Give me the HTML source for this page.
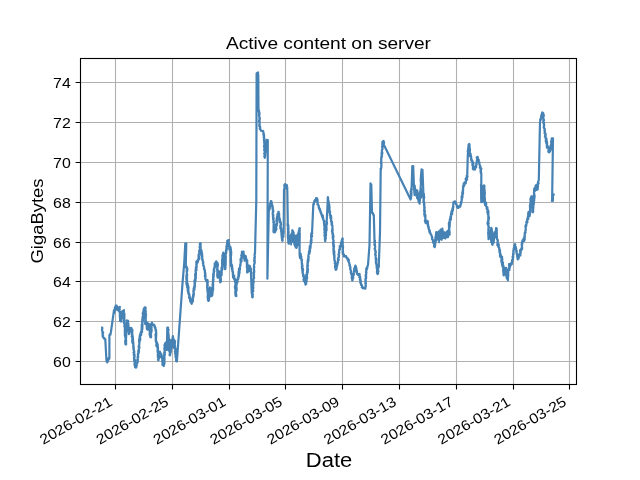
<!DOCTYPE html>
<html><head><meta charset="utf-8"><style>
html,body{margin:0;padding:0;background:#fff;width:640px;height:480px;overflow:hidden}
svg{display:block;will-change:transform}
text{font-family:"Liberation Sans",sans-serif;fill:#000}
.tl{font-size:14.3px}
.ti{font-size:16.7px}
.xl{font-size:19.4px}
.yl{font-size:17.2px}
</style></head><body>
<svg width="640" height="480" viewBox="0 0 640 480">
<rect x="0" y="0" width="640" height="480" fill="#fff"/>
<path d="M115.50 58.5V384.5M172.50 58.5V384.5M229.50 58.5V384.5M285.50 58.5V384.5M342.50 58.5V384.5M399.50 58.5V384.5M456.50 58.5V384.5M513.50 58.5V384.5M569.50 58.5V384.5M80.5 361.50H576.5M80.5 321.50H576.5M80.5 281.50H576.5M80.5 242.50H576.5M80.5 202.50H576.5M80.5 162.50H576.5M80.5 122.50H576.5M80.5 82.50H576.5" stroke="#b0b0b0" stroke-width="1.11" fill="none"/>
<path d="M102.1 327.7 102.0 328.0 102.3 328.2 102.3 329.0 101.9 329.7 101.9 330.1 102.0 329.8 102.4 331.9 102.2 331.1 102.7 333.2 102.7 332.5 103.1 332.2 103.1 333.2 102.5 333.4 102.7 335.4 102.6 335.4 103.1 335.5 103.0 335.7 102.7 336.5 103.1 337.2 103.6 337.4 103.7 338.1 104.2 337.9 104.8 339.1 104.7 339.2 105.3 339.4 106.5 361.2 107.0 361.8 107.3 362.4 107.7 359.7 108.2 358.3 108.0 361.3 108.0 359.4 108.2 359.9 109.1 358.9 109.5 357.8 109.4 357.6 109.4 335.0 109.9 334.8 110.0 334.0 110.5 334.7 110.5 333.6 110.8 332.8 114.0 310.2 113.9 310.9 114.6 312.9 115.0 307.3 114.9 309.6 114.8 307.7 115.5 307.5 115.7 305.6 116.1 309.4 116.7 305.6 117.5 310.1 117.7 307.0 118.6 309.2 119.1 307.3 119.5 309.0 119.0 307.8 119.2 311.6 119.8 306.9 119.2 308.0 119.3 310.4 119.7 309.3 119.2 310.9 119.6 312.5 120.2 313.2 119.9 313.1 120.0 313.9 120.2 311.9 120.4 316.6 120.4 317.3 120.1 314.9 119.8 317.1 119.9 313.5 120.0 314.7 120.2 314.4 120.0 315.7 120.1 317.7 120.1 321.1 120.7 318.8 120.6 320.2 120.5 319.4 120.7 317.7 121.2 321.5 121.0 318.0 120.8 314.8 121.1 315.4 121.6 314.2 121.0 319.4 121.6 313.1 121.7 311.7 121.8 318.0 122.2 315.5 121.8 312.6 121.8 313.6 122.2 313.0 122.1 311.7 122.7 311.8 122.5 311.0 123.3 311.7 123.8 311.6 124.0 311.1 123.8 311.7 123.9 310.1 123.6 311.3 123.8 314.7 124.4 313.2 124.4 318.6 124.4 313.5 123.7 312.8 123.7 313.1 124.1 319.8 124.3 316.6 124.1 320.0 123.6 319.2 124.4 320.8 124.2 318.6 123.7 321.9 123.8 322.3 124.4 319.7 123.9 322.8 124.2 320.7 124.0 321.9 123.8 319.9 124.7 325.6 124.2 326.3 125.1 325.2 124.7 324.7 125.0 324.8 124.7 324.7 125.5 326.1 125.1 327.8 125.0 328.5 125.4 325.7 124.9 326.4 124.9 329.0 124.9 328.1 124.8 333.0 125.0 329.4 125.3 333.9 125.1 334.6 125.2 331.6 125.3 327.5 125.2 329.4 124.8 335.5 125.0 333.1 125.5 334.3 125.2 334.5 125.4 337.4 125.0 335.8 125.2 333.8 125.7 336.4 125.5 339.1 125.8 336.8 125.6 337.8 125.5 340.0 125.5 339.1 125.5 343.3 125.7 343.2 126.0 338.2 125.6 344.2 125.9 338.9 125.3 341.5 125.2 341.1 125.3 343.4 125.9 344.2 125.4 344.1 125.7 344.3 125.9 343.4 126.1 344.5 125.5 344.5 125.7 342.2 126.2 343.8 125.5 340.8 125.9 339.5 125.6 338.7 126.1 335.5 125.9 338.8 125.5 337.3 126.0 338.4 125.6 342.2 126.2 341.5 125.6 334.7 125.6 338.8 125.8 332.5 126.0 339.0 126.4 332.6 125.8 338.1 126.2 335.6 125.8 329.3 126.3 332.1 125.8 336.2 126.3 334.5 125.8 334.5 125.8 334.1 126.2 328.9 126.3 333.3 126.1 326.6 126.3 327.2 126.0 326.6 125.9 326.7 126.2 326.8 126.6 326.5 126.4 326.3 126.6 323.8 126.7 321.0 126.8 320.4 127.5 324.8 127.2 323.6 128.1 320.8 127.9 322.8 128.3 323.2 128.1 325.4 128.0 324.4 128.4 329.1 128.2 328.4 128.6 327.1 128.4 325.0 128.1 323.6 128.2 329.6 128.5 324.9 128.4 331.5 129.2 330.5 128.7 327.2 128.8 329.7 128.8 330.1 129.0 334.2 129.7 331.8 129.1 333.2 129.4 332.6 129.4 331.2 129.4 330.6 130.0 331.2 129.9 330.7 130.0 328.0 130.2 329.1 130.8 329.2 131.5 329.2 131.2 327.8 131.5 328.2 131.8 331.0 132.0 332.7 132.0 335.2 131.8 330.8 132.4 329.7 132.2 334.7 131.7 336.6 132.5 335.0 132.2 335.0 132.5 336.0 132.0 336.1 132.4 338.2 132.7 339.2 132.5 340.7 132.7 339.8 132.3 334.3 132.3 337.8 132.3 342.6 132.8 341.2 132.9 342.2 132.8 336.6 133.2 343.8 133.0 342.4 133.2 341.6 133.3 342.5 132.7 343.0 133.4 343.4 133.4 345.6 133.3 344.8 133.3 345.9 133.6 346.3 133.6 346.1 133.2 346.9 133.8 347.5 133.6 348.1 133.7 348.5 133.3 349.0 133.9 349.8 133.9 349.9 133.8 350.6 133.8 350.5 134.2 351.0 134.3 353.0 133.5 352.5 134.3 354.1 134.0 353.1 133.8 355.1 133.9 354.8 133.8 355.2 134.6 354.8 134.5 356.1 134.6 357.0 134.1 358.0 134.3 356.6 133.9 358.1 134.4 358.2 134.1 358.8 134.3 360.3 134.1 360.7 134.9 359.8 135.0 361.6 135.0 361.1 134.6 361.9 135.2 362.8 134.7 362.9 134.6 362.7 134.5 364.7 134.7 365.2 134.7 364.8 135.0 365.3 134.9 366.4 135.4 366.7 135.1 367.1 135.8 367.6 136.1 367.6 136.5 366.7 136.4 365.1 136.6 365.5 136.8 365.5 136.5 363.7 137.2 363.4 137.0 363.4 137.0 363.5 137.3 362.7 137.8 362.1 137.5 361.5 137.5 361.1 137.2 360.1 137.3 361.0 137.6 359.1 138.0 360.3 137.7 357.9 137.5 357.3 137.7 356.8 137.7 356.6 138.0 357.5 138.2 356.0 138.0 355.7 138.0 354.8 137.8 354.1 138.6 353.3 138.3 353.9 138.6 352.5 138.2 352.1 138.3 352.0 138.9 352.2 138.9 350.5 138.2 350.8 139.0 350.1 138.7 349.6 138.8 348.9 138.7 348.9 139.1 348.5 139.3 347.2 138.6 346.5 139.0 347.7 139.5 347.5 139.2 347.3 139.1 345.4 138.8 346.4 139.0 346.8 139.5 342.3 139.0 341.4 139.5 343.8 139.1 339.3 139.5 342.1 139.5 339.3 139.7 337.4 139.5 339.8 140.1 340.5 140.1 338.9 139.6 336.9 140.3 339.3 139.8 335.0 140.0 337.8 140.0 335.7 140.2 337.0 139.9 335.0 140.2 335.0 140.3 334.1 140.9 332.1 141.2 335.1 141.2 331.2 141.9 331.6 141.7 332.1 142.0 331.2 141.5 331.9 141.6 332.7 141.8 328.2 141.6 329.0 142.1 331.9 141.6 327.8 141.7 331.1 141.7 324.6 141.7 326.3 142.4 329.0 142.3 329.2 142.5 324.4 141.9 327.8 142.4 321.4 142.4 323.2 142.2 322.6 142.0 321.3 142.2 322.2 142.4 321.9 142.9 320.9 142.9 320.2 142.4 321.6 142.9 319.5 142.3 319.2 142.6 321.6 142.5 317.5 143.2 314.8 142.8 319.4 143.2 313.8 142.6 313.5 143.5 314.2 143.4 317.9 143.1 313.3 143.7 315.0 143.1 315.2 143.2 311.8 143.0 314.4 143.9 313.1 144.0 308.7 143.4 311.1 144.1 312.9 143.6 309.3 143.7 309.7 144.2 308.8 143.9 308.7 144.6 307.5 145.0 309.0 145.2 310.3 145.1 308.0 145.0 308.7 145.6 307.4 145.2 312.3 145.4 309.4 145.8 311.7 145.4 312.3 145.6 314.0 146.1 315.2 145.5 311.6 145.3 314.2 145.9 314.4 145.4 314.7 145.7 316.9 145.8 318.5 145.7 314.3 145.9 316.0 145.6 317.0 145.7 316.4 145.3 317.2 145.2 321.8 145.5 318.7 145.4 323.5 145.4 319.1 145.7 322.3 145.8 319.8 145.3 323.6 145.6 324.0 144.9 323.1 145.3 323.9 145.5 322.0 146.7 324.8 146.8 324.2 147.3 324.2 147.3 324.8 146.8 328.2 147.5 322.7 147.2 327.8 146.9 326.0 146.9 325.0 147.1 329.1 147.5 326.4 147.0 328.5 147.5 329.7 148.0 327.3 148.0 326.1 148.7 328.7 148.4 324.2 149.0 327.8 149.5 324.3 149.7 326.4 149.4 327.4 149.7 326.4 149.6 331.2 149.7 329.0 149.8 328.2 150.3 333.9 149.8 327.3 150.2 327.8 149.6 334.6 150.0 334.4 150.0 335.5 150.1 329.5 149.8 333.5 150.4 337.2 149.9 334.9 150.2 334.6 150.0 334.5 150.4 335.6 150.5 336.0 150.2 334.5 150.9 336.8 150.4 330.6 151.1 337.3 150.8 328.5 151.3 331.0 151.3 332.5 151.3 327.9 151.3 327.9 151.1 333.0 151.5 326.5 151.0 328.0 151.4 327.3 151.1 325.6 151.7 330.9 151.1 327.4 151.9 322.7 152.0 323.5 151.9 325.4 151.9 324.3 151.9 324.2 152.4 324.5 152.9 324.8 153.5 324.5 154.1 324.8 153.8 325.4 154.4 325.2 154.8 326.9 154.7 326.1 154.9 326.4 154.7 327.4 154.8 327.9 155.4 327.4 155.5 329.2 155.7 329.3 155.8 330.8 155.6 329.3 155.6 330.7 156.1 329.9 156.0 334.9 155.9 334.4 155.5 335.8 155.8 336.2 156.2 332.4 156.1 337.1 155.5 334.4 156.1 333.9 156.3 335.0 156.2 334.8 156.0 339.5 155.8 336.5 156.1 337.3 155.7 337.1 155.8 341.6 156.3 341.7 155.9 341.4 155.9 340.9 156.4 341.0 156.6 341.9 156.3 342.3 156.5 343.9 156.3 345.9 156.9 343.2 157.2 343.0 157.5 345.2 157.1 346.7 157.3 344.0 157.8 344.9 157.7 346.7 158.0 347.0 157.9 348.7 157.9 348.7 157.6 346.8 157.4 347.6 158.0 349.4 157.9 352.4 157.6 349.3 158.1 348.7 157.5 351.0 157.6 351.5 157.8 352.9 158.1 352.6 158.2 353.7 157.8 355.2 157.9 354.0 157.8 355.6 158.5 356.4 158.1 355.8 157.8 357.1 158.3 356.9 158.4 357.7 158.7 358.7 158.1 359.3 157.9 359.3 158.3 359.7 158.4 360.3 158.1 360.0 158.2 359.4 159.1 358.0 158.6 358.6 158.9 358.1 159.3 355.2 159.0 355.6 158.9 358.9 159.6 357.3 159.0 357.6 159.8 354.7 159.9 354.2 159.5 353.0 159.9 353.4 159.9 351.7 160.3 355.8 160.9 356.9 161.2 353.5 161.4 355.1 161.9 356.0 161.9 356.3 161.7 357.1 162.4 357.0 162.4 356.9 161.9 357.8 162.4 359.8 162.4 359.0 162.6 359.5 162.1 361.3 162.5 361.3 162.6 362.5 162.5 362.7 162.7 363.2 162.5 363.4 162.7 363.1 162.4 364.1 162.4 364.8 162.8 365.0 163.8 366.0 163.5 365.2 163.5 365.5 163.8 363.8 163.5 363.0 164.1 363.8 164.2 364.4 163.7 363.0 164.0 363.8 164.4 363.8 163.8 363.1 164.6 363.1 163.9 358.3 163.9 356.8 164.6 360.5 164.5 359.6 164.5 357.6 164.4 357.5 164.1 356.6 164.7 355.9 164.3 355.7 164.1 354.5 164.3 356.1 164.4 353.4 165.0 354.0 164.9 354.1 164.2 352.4 164.6 354.0 164.5 353.1 164.7 349.8 165.0 348.5 165.0 348.5 164.3 348.2 165.0 352.1 164.3 348.8 164.8 350.1 164.5 347.8 164.7 349.3 164.7 349.4 164.7 344.9 165.1 345.8 164.6 345.8 164.6 345.4 165.2 344.6 165.0 343.8 165.6 343.4 165.8 343.5 165.7 343.9 166.3 342.6 166.4 342.7 165.9 344.6 166.7 346.5 166.3 349.2 166.3 347.3 166.7 349.3 167.0 349.0 166.9 349.1 167.3 327.5 168.1 327.5 168.0 327.8 167.8 329.3 168.3 329.9 167.9 329.3 168.4 330.5 167.9 330.4 168.6 329.6 168.0 330.5 168.4 334.1 167.9 330.7 168.0 332.2 168.3 331.7 168.2 332.4 168.8 336.0 168.0 337.9 168.0 335.1 168.8 338.0 168.6 336.4 168.1 338.1 168.1 336.2 168.3 336.3 168.4 339.8 168.6 339.4 168.6 339.8 168.5 340.4 169.8 339.7 169.5 340.3 169.7 341.2 170.2 341.0 169.9 342.6 169.8 341.0 170.0 344.7 170.1 344.4 170.2 344.8 170.0 344.0 169.7 345.5 169.5 344.8 170.1 347.0 170.0 344.8 169.8 346.5 170.0 346.8 170.1 350.3 169.6 349.2 170.2 348.2 169.9 352.1 169.5 350.1 169.6 352.0 170.3 351.0 169.6 351.8 170.0 353.1 170.0 353.1 170.3 353.0 169.9 355.0 169.7 354.4 169.9 354.9 169.7 355.3 170.0 355.4 169.9 354.0 169.9 354.0 169.8 353.4 170.2 354.4 170.2 351.4 170.2 353.6 170.9 351.9 170.3 352.9 170.5 349.0 170.3 351.7 171.0 350.4 170.8 349.4 170.6 350.3 170.8 348.3 171.0 347.5 171.3 347.6 171.1 345.7 171.2 344.0 171.5 344.7 171.6 343.7 171.2 343.1 171.4 342.2 171.0 344.8 171.3 341.5 171.4 342.4 171.6 342.8 171.9 340.8 172.2 342.3 171.4 341.1 171.9 340.0 172.6 341.2 172.2 341.1 172.9 336.0 173.1 338.4 172.7 339.8 173.4 338.4 172.9 337.8 173.1 342.0 173.3 338.9 173.8 343.1 173.3 344.2 173.7 344.0 173.8 345.2 174.0 345.4 173.5 345.0 173.9 345.4 173.9 345.7 174.0 345.4 175.0 345.9 175.1 346.2 174.8 346.2 175.1 346.2 175.1 346.6 175.2 348.5 175.3 350.9 174.9 351.5 175.3 350.4 175.5 352.5 175.3 350.6 175.9 349.1 175.6 352.8 175.1 353.2 175.8 355.6 175.5 356.4 175.7 354.0 176.1 351.9 176.0 355.9 175.7 357.7 175.7 356.0 175.9 358.2 175.7 356.8 175.9 358.0 176.3 357.8 176.4 358.6 176.1 358.9 176.2 360.3 176.4 360.5 176.1 360.7 176.3 361.3 176.9 361.3 182.5 283.3 184.2 263.3 185.3 243.3 186.3 243.4 185.8 265.0 185.8 265.8 186.3 267.5 185.9 267.6 186.8 267.1 186.3 266.3 186.4 266.7 187.0 268.3 187.4 268.9 187.1 269.9 187.3 270.2 187.1 270.9 187.1 271.3 187.1 269.8 187.1 271.7 187.1 270.3 186.6 270.4 187.1 275.7 187.0 273.3 187.2 276.0 186.9 273.7 186.7 275.1 186.7 275.7 186.9 278.9 186.4 277.4 186.4 275.5 187.1 278.5 187.1 278.3 186.3 278.6 186.8 281.4 187.2 280.1 186.6 279.8 186.8 280.9 186.7 281.7 186.5 281.7 186.4 283.1 186.6 284.6 186.7 285.1 186.8 281.9 187.5 283.3 187.6 283.5 187.0 287.1 187.7 288.1 187.8 284.4 187.8 288.2 187.8 289.9 187.7 290.6 188.2 286.0 187.7 289.9 188.5 287.3 188.1 291.3 188.1 292.5 188.4 288.7 188.4 292.0 188.6 293.0 188.4 293.9 188.7 293.6 189.0 293.3 188.9 294.6 189.5 294.8 189.2 295.0 189.4 295.1 189.1 297.9 189.8 298.3 189.5 297.6 190.2 299.4 190.0 297.1 190.0 300.7 190.1 300.1 190.4 301.8 190.7 299.0 190.1 299.7 190.6 301.4 190.8 301.7 191.7 303.8 191.5 303.4 192.5 301.6 192.8 301.5 192.7 300.1 193.0 301.0 192.9 301.2 192.7 297.0 192.9 300.1 192.7 299.4 193.4 296.1 193.2 298.0 193.1 294.9 193.0 297.3 193.5 295.2 193.0 296.6 193.7 293.0 193.6 296.1 193.9 293.5 193.6 293.4 193.4 290.7 193.5 293.0 193.7 291.7 193.8 290.9 193.6 288.5 194.5 289.4 193.7 289.6 194.4 288.5 194.2 288.3 194.3 287.7 194.3 286.4 193.9 288.1 194.7 286.3 194.5 284.8 194.8 284.9 195.0 286.2 194.9 286.8 194.5 281.3 194.5 281.6 194.4 280.4 194.9 284.3 194.9 284.2 195.3 278.9 195.1 280.2 194.7 282.8 194.9 280.1 195.3 281.8 195.4 278.2 195.2 276.5 195.7 280.5 195.1 274.8 195.2 276.0 195.8 278.4 195.8 273.8 195.8 276.0 195.8 276.1 195.3 273.7 196.0 274.2 195.8 273.3 196.0 272.6 196.0 272.9 195.6 271.2 195.7 269.6 196.0 269.0 195.8 268.3 196.2 267.1 196.3 267.6 195.7 271.1 195.9 270.6 196.6 269.9 195.9 267.0 195.9 269.1 196.7 266.9 196.3 264.9 196.7 265.1 196.6 262.8 196.3 261.8 196.7 264.0 196.3 264.5 196.4 262.5 196.4 261.9 196.7 261.7 197.4 260.4 197.2 260.8 197.7 262.6 198.3 260.0 198.0 260.3 198.1 260.3 198.7 257.1 198.6 256.8 198.5 255.8 198.7 259.5 199.4 258.7 198.6 254.7 199.4 252.9 199.4 253.7 199.7 251.7 199.6 252.9 199.1 250.9 199.8 252.8 199.3 252.1 199.7 251.7 200.1 250.7 199.8 249.5 199.5 251.4 200.0 248.0 199.5 246.9 200.0 248.6 199.8 246.5 200.1 248.7 200.3 247.5 199.8 244.2 200.3 245.5 200.3 243.1 200.5 244.2 200.5 245.6 200.3 243.1 200.3 243.4 200.7 243.9 200.8 243.7 200.2 246.5 200.4 243.7 200.5 246.5 200.2 246.6 200.7 247.1 200.5 248.7 201.1 250.0 200.8 249.7 200.9 250.5 200.7 251.6 201.5 250.1 201.2 250.8 201.3 250.4 201.3 251.7 201.8 251.8 201.2 251.4 201.3 254.8 201.2 251.6 201.9 252.6 201.3 255.3 201.9 255.5 202.1 253.7 202.3 257.5 201.6 256.1 202.1 257.4 202.0 257.1 202.2 257.7 202.4 259.4 202.1 259.5 202.5 260.0 202.8 260.3 203.0 261.6 202.7 261.4 203.2 262.1 202.9 263.6 203.4 262.8 203.0 263.3 203.3 265.2 203.7 265.6 203.8 266.0 203.3 265.7 204.2 267.2 203.7 266.6 204.1 267.1 204.1 267.5 204.2 268.3 204.2 268.8 203.9 269.0 204.8 270.2 204.9 270.6 204.8 271.7 205.0 270.3 204.8 271.3 204.9 271.9 204.9 273.8 205.0 272.8 205.0 273.7 205.4 272.9 204.9 276.0 204.8 276.1 205.7 276.0 205.1 276.2 205.4 274.4 205.1 274.8 205.3 277.4 205.4 277.3 205.3 279.1 206.0 279.7 205.8 280.0 206.4 281.1 206.7 281.5 207.5 280.0 207.5 280.6 207.6 280.9 207.3 280.3 207.2 282.1 207.4 283.2 207.1 282.0 207.8 281.7 207.6 284.0 207.3 288.1 207.3 287.0 207.2 282.5 207.8 285.7 207.1 285.8 207.4 288.8 207.1 285.7 207.9 289.9 207.2 287.5 207.4 290.4 207.6 291.8 207.8 290.3 207.7 291.4 207.7 291.2 207.5 291.7 207.8 292.6 208.0 291.2 208.0 290.4 207.9 294.3 207.7 297.6 207.8 294.1 208.1 297.9 208.0 294.9 207.9 295.9 208.1 295.3 207.9 297.7 207.9 296.5 208.3 300.8 208.1 298.4 207.9 298.2 207.9 300.1 208.3 299.5 208.3 300.8 208.7 300.0 208.7 300.7 208.9 298.1 208.5 301.0 208.2 295.3 208.8 297.7 209.1 299.2 208.9 300.3 208.9 296.4 209.1 294.9 208.9 295.9 209.0 297.9 209.3 294.4 208.9 292.8 209.2 293.6 209.4 295.4 209.8 292.1 209.4 292.6 210.0 290.0 209.6 292.9 209.4 288.9 210.2 291.4 209.8 287.5 210.2 289.1 210.2 288.8 210.0 287.6 210.4 287.9 209.8 287.7 210.2 289.2 209.9 287.4 210.4 290.9 210.2 294.2 210.5 287.9 210.3 293.8 210.3 293.6 210.1 291.3 210.9 293.9 210.8 291.6 210.6 294.6 210.5 295.4 210.8 296.4 210.8 295.8 211.2 294.9 211.0 292.5 211.9 291.7 211.6 291.8 212.2 295.6 212.5 293.3 212.6 293.2 212.2 291.1 212.8 291.2 212.8 290.6 212.3 289.5 212.3 293.0 212.8 288.7 212.7 288.5 212.3 291.6 212.8 291.6 212.7 288.7 212.6 284.0 213.2 289.4 212.7 289.2 213.2 284.4 213.0 288.6 212.9 288.0 212.7 283.5 213.2 281.8 212.9 286.0 213.0 284.9 212.9 279.9 213.0 279.5 213.6 279.9 213.2 278.6 213.2 279.8 213.1 278.3 212.9 280.1 213.1 278.5 213.3 278.3 213.1 277.4 213.2 275.6 213.6 276.0 213.2 277.7 213.2 274.1 213.9 272.6 213.6 277.2 213.9 271.8 213.6 275.4 213.6 276.6 213.5 276.0 213.8 270.3 213.8 269.1 214.1 269.6 214.3 271.4 213.9 268.8 214.2 268.4 214.4 268.1 214.2 268.9 214.2 268.3 214.2 268.7 214.4 268.3 214.7 265.6 214.7 263.6 214.7 268.1 215.0 266.4 215.0 265.2 215.4 264.3 215.5 262.4 215.8 263.3 216.2 261.3 216.6 264.2 217.5 262.6 217.3 263.0 217.9 264.3 217.8 265.5 217.2 263.6 217.1 266.2 217.6 264.7 217.4 267.2 217.7 265.0 217.8 266.2 217.6 265.6 217.2 270.9 217.7 270.1 217.1 266.2 217.2 267.8 217.3 269.4 217.1 269.5 217.6 269.2 217.8 272.2 217.7 270.7 217.4 273.9 217.4 270.3 217.8 275.1 217.3 272.6 217.8 275.1 217.1 275.0 217.5 275.8 217.4 276.7 217.7 277.6 218.5 271.7 218.6 273.3 218.9 275.6 218.8 271.2 219.2 272.6 219.7 273.0 219.7 274.3 219.6 275.8 219.5 274.4 219.1 276.5 219.5 275.8 220.0 273.8 219.9 273.8 219.9 279.2 219.6 278.1 220.3 279.2 219.9 277.2 219.6 278.4 219.9 277.9 219.9 278.0 220.3 281.7 219.9 280.5 220.3 281.8 220.3 282.4 220.8 281.7 220.2 282.4 220.2 281.1 220.4 282.0 220.6 281.5 220.4 280.4 220.8 278.5 221.0 280.4 220.5 276.4 220.8 275.3 220.5 275.3 220.7 277.5 221.0 273.2 221.0 275.0 221.1 272.5 220.8 271.0 221.7 275.2 221.0 274.5 221.8 273.0 221.1 272.0 221.5 270.3 221.6 269.7 222.0 270.7 221.7 270.0 221.9 269.9 221.9 268.5 221.6 267.4 221.5 269.0 222.2 266.5 221.7 267.7 222.3 269.1 221.8 267.8 222.4 267.0 222.0 262.8 222.5 263.2 222.1 264.2 222.2 265.5 222.1 259.9 222.5 263.2 222.7 263.1 222.9 264.2 222.5 260.8 222.3 259.0 222.7 257.0 222.9 257.1 222.7 261.8 222.4 255.2 222.8 255.7 223.1 254.0 223.2 259.0 223.2 255.7 222.8 256.6 223.1 254.8 223.0 254.4 223.3 255.1 223.6 253.0 223.1 253.1 223.3 252.6 223.4 253.0 223.1 252.8 223.3 254.0 223.9 256.2 223.9 257.4 224.0 256.3 223.9 253.3 223.9 257.3 223.6 257.6 224.2 257.5 224.0 256.8 223.8 261.1 223.5 257.1 224.2 259.3 223.7 261.1 224.0 261.1 224.1 261.3 224.3 260.9 223.9 260.0 224.7 262.9 224.0 265.4 224.2 261.0 224.5 262.5 224.5 265.0 224.3 265.6 224.3 265.7 224.8 263.7 224.7 264.6 224.7 268.5 224.9 268.2 225.1 267.3 225.4 268.8 225.0 269.1 224.7 268.9 225.0 267.4 225.5 267.8 225.4 265.6 225.4 264.3 224.9 265.3 224.7 266.1 224.9 263.7 225.4 264.0 225.6 264.8 225.6 263.9 225.7 265.4 225.0 264.1 225.2 263.7 225.5 263.6 225.1 260.1 225.7 263.3 225.7 257.0 225.6 256.8 225.6 260.9 225.2 261.2 225.7 256.3 225.3 257.0 225.9 257.4 225.3 253.5 225.3 257.4 225.4 255.6 225.5 255.4 225.6 253.6 226.1 253.8 225.8 253.3 226.1 253.3 226.4 250.7 225.9 250.2 226.1 253.6 226.5 247.8 226.0 252.4 226.6 249.1 226.5 247.1 226.9 248.1 227.0 249.0 226.4 246.7 226.6 249.9 227.0 243.8 226.7 245.4 227.0 246.3 227.1 244.4 226.8 245.2 227.2 242.8 227.4 244.6 227.5 243.3 227.2 240.9 227.9 240.8 227.7 241.7 227.8 241.3 228.2 241.4 228.3 240.1 228.8 240.2 228.5 241.6 228.8 242.2 228.7 242.4 228.5 242.2 229.0 244.0 229.2 244.1 228.7 244.7 229.1 244.7 229.1 244.8 229.1 245.3 228.7 245.9 229.2 246.7 229.4 249.7 230.0 246.8 230.2 246.5 230.8 248.3 230.7 248.5 230.4 250.0 230.8 249.7 230.9 249.6 230.5 248.9 230.6 250.3 231.0 252.1 231.2 251.4 231.2 253.3 230.4 251.6 230.9 256.4 230.7 255.8 230.7 256.8 230.4 255.2 231.2 254.6 230.6 253.7 230.5 255.5 231.0 255.8 230.7 256.2 230.9 260.3 230.9 257.2 231.0 261.8 230.9 257.5 231.1 262.2 230.7 259.2 230.5 261.4 231.1 262.2 231.2 261.8 230.6 263.0 230.8 263.3 231.0 263.6 231.2 263.8 230.7 264.4 230.8 266.0 231.2 265.7 231.5 265.0 231.5 264.1 232.0 267.6 232.1 265.3 231.9 269.5 231.7 266.5 231.7 267.3 232.3 267.5 232.5 269.9 232.3 271.0 232.4 271.5 232.5 271.7 232.7 271.7 232.9 271.5 232.9 274.6 233.1 272.7 233.1 276.8 232.9 273.5 233.1 277.6 232.8 273.2 233.2 276.6 233.3 276.7 233.8 276.7 234.2 276.2 234.3 275.9 233.8 276.6 234.1 279.1 234.8 278.3 235.0 280.0 235.4 280.4 234.7 280.5 235.3 282.6 234.8 280.4 235.4 281.5 235.6 283.1 235.3 282.7 235.5 283.9 235.1 286.8 234.9 286.4 234.9 286.4 235.2 288.1 234.9 287.0 235.3 289.4 235.8 288.3 235.2 286.8 235.2 288.3 235.2 287.6 235.7 290.5 235.3 292.9 235.3 291.1 235.3 293.2 235.9 290.5 235.8 294.0 235.4 291.9 235.7 294.9 235.4 294.4 235.8 294.1 235.8 295.4 235.5 295.6 235.8 295.8 235.7 295.6 236.2 294.0 236.3 296.1 235.8 291.4 235.7 294.3 235.6 293.6 235.8 292.7 235.8 291.0 236.4 290.3 236.1 291.6 236.5 291.0 236.7 288.6 236.1 289.8 236.6 287.6 236.4 287.5 236.4 286.7 236.1 288.0 236.4 287.1 236.3 286.0 236.3 285.5 236.7 285.0 236.5 284.6 236.6 284.3 237.0 282.7 237.0 282.9 237.6 282.1 237.0 282.9 237.7 281.9 237.3 280.1 237.4 279.4 237.3 279.8 237.7 279.4 237.8 277.7 238.2 279.2 238.1 278.0 238.4 278.3 238.3 276.7 238.7 276.6 238.4 275.1 238.5 277.7 238.5 273.9 238.6 271.6 239.3 270.1 239.0 276.3 238.8 273.5 239.0 270.3 238.9 268.9 239.5 273.2 239.7 267.5 239.6 268.9 239.6 270.1 239.4 272.6 239.2 270.4 240.1 268.3 239.9 269.5 239.7 267.4 240.0 266.7 240.3 266.0 240.3 265.4 240.2 265.7 240.5 263.6 240.5 264.5 240.2 264.5 240.3 266.1 240.6 264.2 240.7 262.0 240.5 259.0 241.2 261.3 240.9 260.8 241.2 258.2 240.7 261.9 241.1 260.1 241.5 261.4 241.6 254.8 241.2 259.9 241.7 254.8 241.2 255.4 241.2 255.6 241.9 255.5 241.7 255.0 242.0 251.7 242.2 257.6 242.8 253.2 243.0 255.1 243.3 252.6 243.6 252.0 243.6 252.8 243.6 252.3 243.5 253.5 243.6 251.7 243.5 256.2 243.5 253.9 244.2 255.1 243.9 255.7 244.4 256.5 244.2 258.3 244.7 260.7 244.8 258.3 245.7 260.0 245.8 256.1 246.2 259.0 246.7 260.0 246.9 260.2 246.7 261.5 247.1 260.9 246.7 262.5 247.2 260.4 247.3 264.6 246.8 264.8 246.8 261.0 247.2 263.8 247.1 265.1 247.4 267.5 246.7 266.9 247.1 266.4 247.5 266.6 247.2 270.6 247.2 268.2 247.3 271.1 247.5 271.0 247.2 266.6 247.5 270.6 247.6 272.0 247.1 270.5 247.1 272.4 247.5 272.4 247.3 270.8 248.0 271.7 247.5 272.2 248.2 270.3 247.8 271.3 248.2 270.0 248.9 271.2 248.9 265.8 248.5 268.0 248.4 270.9 248.7 265.6 248.9 265.7 249.2 265.9 249.8 266.8 249.8 266.3 249.8 265.9 250.8 269.9 250.8 268.3 251.7 293.3 252.1 292.7 251.6 291.1 252.0 293.9 252.1 295.3 252.3 295.6 252.6 295.7 252.8 297.0 252.5 297.4 252.1 296.8 252.6 296.3 252.6 295.7 252.4 295.8 252.5 295.3 252.9 294.6 252.7 294.8 252.7 294.2 252.4 292.7 252.9 291.4 253.1 290.9 252.9 290.7 253.3 291.0 253.2 290.3 253.1 290.2 252.8 288.7 253.3 288.1 253.4 287.7 252.7 286.9 253.3 288.3 253.0 287.2 252.9 287.2 253.3 285.2 252.8 285.6 252.8 285.2 253.1 284.1 253.3 283.7 253.3 283.3 253.4 282.7 253.7 282.2 253.7 281.4 253.7 281.9 253.3 280.0 253.4 280.5 253.2 279.9 253.2 279.2 253.8 278.6 253.7 277.4 253.9 276.9 254.0 278.4 254.1 276.8 253.5 275.9 253.9 275.7 254.1 274.4 253.7 275.5 253.9 274.3 253.4 272.9 253.6 274.1 254.2 272.1 254.3 271.2 254.0 272.8 253.8 272.2 254.1 269.7 253.9 270.1 253.8 270.2 253.8 269.7 253.9 268.1 254.2 267.8 254.2 267.9 254.3 267.2 254.2 266.7 253.8 266.2 253.9 265.8 254.0 265.3 254.2 264.4 254.5 263.5 254.1 264.6 254.3 263.8 254.8 262.5 254.2 261.2 254.8 260.7 254.5 261.1 254.2 260.4 254.3 260.1 254.6 259.2 254.4 258.8 254.4 257.6 254.5 258.8 254.8 258.3 254.3 257.9 254.8 257.0 254.9 256.3 254.6 255.8 254.6 254.6 254.5 254.2 255.0 253.7 255.0 253.3 256.3 200.0 256.6 73.3 257.5 72.7 258.1 72.4 258.0 73.3 258.2 75.0 258.3 75.0 258.5 110.0 258.8 110.2 258.4 111.2 259.1 110.5 258.9 112.4 259.1 112.2 259.2 112.9 259.4 112.4 259.5 113.8 259.1 113.6 259.0 115.5 259.4 114.7 259.2 115.5 259.2 116.3 259.5 117.0 259.3 117.8 259.9 118.4 259.4 118.5 259.7 119.9 259.6 119.8 259.1 120.3 259.7 121.1 259.0 121.5 259.2 120.8 259.8 122.4 259.5 121.7 259.6 124.0 259.6 124.0 259.6 124.7 259.3 124.4 259.5 125.3 259.6 125.4 259.2 126.0 259.8 126.6 260.0 126.2 260.2 128.2 259.7 128.8 259.9 127.9 260.3 128.7 260.5 129.6 261.0 130.7 261.7 130.6 261.9 131.1 262.8 131.1 263.0 131.0 263.5 132.2 263.2 131.1 263.6 133.2 263.6 133.0 263.5 133.6 264.0 134.4 263.3 134.5 263.4 134.1 264.1 135.3 264.0 135.9 263.8 135.9 263.9 137.8 264.2 137.0 263.7 137.5 264.3 138.4 264.3 139.5 263.9 139.6 264.3 140.0 263.9 140.6 264.0 140.9 264.7 141.4 264.1 142.5 264.5 143.1 264.3 143.1 264.8 143.6 264.8 143.4 264.7 143.8 264.4 144.0 264.1 146.6 264.4 146.8 264.2 146.3 264.1 147.2 264.8 147.7 264.4 149.1 264.8 149.0 264.1 149.4 264.5 150.7 264.4 150.5 264.7 150.4 264.6 151.6 264.9 151.7 264.5 153.3 264.2 153.5 264.8 153.3 264.6 154.3 265.0 154.7 264.9 153.9 264.5 154.7 265.1 156.2 264.3 156.4 264.7 156.5 264.6 157.4 264.7 157.8 264.9 157.2 265.0 156.5 264.9 156.1 265.3 156.1 265.2 155.6 264.9 155.7 265.3 154.6 264.9 152.9 265.2 153.9 265.5 152.3 265.0 152.2 265.7 150.9 265.6 150.4 265.3 149.6 265.3 149.8 266.0 150.3 265.3 148.8 266.0 148.3 265.7 148.0 265.6 147.5 265.5 146.7 265.8 146.3 266.4 145.5 265.7 146.4 266.0 145.7 266.3 145.1 266.0 143.2 266.5 143.4 266.4 143.3 266.6 141.9 266.3 142.8 266.5 141.0 266.7 140.6 266.9 140.1 266.7 139.9 267.8 140.0 267.4 278.7 268.8 210.8 269.2 210.3 268.9 210.9 268.9 208.3 268.8 208.9 269.6 209.0 269.4 209.0 269.2 206.3 269.8 208.7 269.9 207.0 270.1 205.2 270.4 206.1 269.9 204.1 270.5 203.5 270.0 204.5 270.4 203.0 270.5 202.5 271.0 203.8 270.8 201.0 271.5 201.3 271.2 201.7 271.7 203.4 271.9 203.1 271.8 203.6 271.8 205.3 272.3 205.8 271.8 205.5 272.5 205.3 272.7 207.5 272.6 207.7 272.7 208.4 272.3 207.9 272.9 208.0 272.8 208.3 272.6 208.5 273.0 209.8 272.7 209.2 272.7 209.2 273.1 212.4 273.3 210.7 273.2 210.0 273.3 211.5 272.6 213.4 272.8 212.3 272.7 213.6 273.2 215.6 272.8 216.2 272.9 214.1 273.4 215.1 273.1 216.6 273.1 218.1 273.1 218.8 273.6 218.0 273.0 219.5 273.0 218.8 273.4 217.4 273.6 220.8 273.6 219.9 273.6 221.1 273.3 222.3 274.1 222.4 274.1 222.1 274.1 222.5 273.7 223.3 273.7 223.4 273.7 224.7 273.9 224.7 273.6 224.0 273.7 224.9 273.5 227.4 273.8 226.6 273.6 228.2 273.6 226.8 273.9 229.2 274.3 229.9 274.3 231.2 274.1 230.8 273.5 229.1 273.5 232.1 274.2 231.7 273.8 231.7 274.0 232.4 274.0 232.5 275.1 230.6 274.6 229.6 275.2 232.1 275.7 230.0 276.1 229.4 275.5 227.7 275.6 229.7 276.0 230.1 276.5 228.7 276.1 228.3 275.9 224.7 276.4 225.9 276.1 224.3 276.0 226.6 276.7 225.8 277.1 223.7 276.7 223.3 277.0 222.6 277.1 223.4 276.5 219.7 276.6 221.6 276.8 218.6 277.3 221.5 277.0 217.8 277.4 219.4 276.7 218.0 277.3 219.9 277.2 218.2 277.0 216.8 277.3 216.7 277.8 215.9 277.3 216.1 277.5 213.9 278.0 215.0 278.3 215.0 278.3 211.8 278.7 211.9 278.7 212.6 278.7 212.9 279.0 214.4 278.7 214.8 279.2 214.6 278.7 217.0 279.2 213.8 279.0 218.3 279.0 216.3 279.6 218.5 279.5 218.3 279.5 218.3 279.2 217.5 280.2 220.7 279.5 218.1 279.8 222.4 279.9 221.7 280.3 221.7 280.7 222.3 280.8 222.2 280.1 221.7 280.7 222.1 281.0 225.1 280.3 226.0 280.3 225.3 280.3 226.9 281.1 228.0 280.3 228.2 280.8 228.6 280.8 228.2 281.0 229.5 280.5 226.8 281.0 228.3 280.9 227.7 281.3 228.7 281.4 231.4 281.1 230.8 281.2 231.7 281.4 231.9 281.3 231.8 281.8 233.4 281.3 232.0 281.7 235.7 281.9 233.0 281.5 234.4 281.9 234.2 281.8 238.3 282.1 234.6 281.5 235.6 282.1 238.2 282.0 238.1 282.0 239.3 282.3 240.7 282.4 240.5 282.6 240.7 282.3 240.8 282.6 239.8 282.6 240.5 282.4 240.4 282.3 240.5 282.6 239.1 282.5 236.9 282.6 236.4 282.5 236.4 283.3 236.8 283.4 236.8 283.3 236.2 283.3 234.1 282.9 233.9 282.8 233.0 283.6 234.0 283.2 233.2 283.7 232.8 283.8 231.6 283.2 231.4 283.5 230.6 283.7 230.0 284.0 190.0 284.0 189.5 284.6 188.3 284.3 188.7 284.4 188.9 284.4 188.3 284.7 187.9 284.3 185.7 284.5 186.7 284.4 184.8 285.1 185.2 285.0 184.2 285.3 184.3 286.3 185.2 286.7 185.0 287.0 185.8 286.6 185.5 286.5 186.9 286.7 186.5 287.4 187.8 287.1 188.3 287.2 188.9 287.0 188.1 286.9 189.0 287.3 190.0 287.8 223.3 287.7 223.7 287.5 224.3 288.3 225.0 287.7 225.6 287.6 225.2 287.8 226.2 288.1 226.7 288.2 226.4 288.4 226.8 288.3 225.3 288.4 227.1 288.4 231.3 288.3 228.4 287.7 228.3 288.5 228.6 288.3 231.9 288.3 229.8 287.9 229.7 288.7 232.1 288.4 233.8 288.0 231.0 287.9 236.6 288.0 237.9 288.2 236.8 288.1 237.7 288.2 235.5 288.5 234.4 288.2 239.3 288.3 237.1 288.7 236.6 288.3 237.3 288.5 238.7 288.7 239.8 288.9 238.9 288.8 241.7 288.4 240.6 288.6 241.6 288.7 242.4 289.2 243.5 289.3 239.6 290.2 239.9 290.5 241.5 291.2 241.7 290.9 240.5 291.2 240.6 291.8 240.4 291.1 238.0 291.8 239.5 292.0 241.6 292.1 235.6 292.2 237.7 291.7 234.9 292.3 234.7 291.7 234.5 292.5 235.3 292.4 232.3 292.2 233.3 292.1 235.0 292.3 231.0 292.9 232.8 292.3 230.2 292.8 232.0 292.3 231.4 292.8 230.9 293.1 231.5 292.7 232.0 293.1 233.5 292.7 235.0 293.5 235.1 293.5 233.2 293.6 232.5 293.1 235.8 293.7 232.9 293.2 233.2 293.5 234.4 293.3 238.4 293.7 238.8 293.7 238.3 293.8 239.4 293.6 242.0 293.9 239.7 294.4 243.2 294.5 244.0 294.8 239.5 295.1 239.9 295.4 242.0 294.9 244.3 295.3 243.3 295.3 243.4 295.5 245.4 295.4 244.0 295.7 247.5 295.7 246.6 296.1 246.1 296.6 247.7 296.7 247.4 296.4 246.5 296.5 247.9 296.6 244.1 297.0 245.9 297.4 242.0 296.9 242.2 297.3 243.6 297.2 245.9 297.5 245.2 297.8 240.9 297.9 241.3 297.2 244.1 297.3 237.8 297.5 239.0 298.2 242.3 297.8 239.5 298.3 239.9 298.2 238.4 298.1 237.9 297.8 237.0 298.4 237.2 298.6 238.4 298.8 233.9 298.1 238.0 298.6 232.8 298.8 232.8 298.5 233.0 298.8 234.5 298.5 234.5 299.1 232.2 299.2 233.8 298.7 231.2 299.4 232.3 299.4 228.4 299.8 231.3 299.2 229.2 299.9 228.4 299.6 228.4 299.6 254.6 299.9 257.8 300.6 253.7 300.8 255.0 301.1 257.9 301.3 256.7 301.0 257.1 301.1 257.6 301.0 257.8 301.4 258.6 301.2 259.3 302.0 259.9 301.5 260.7 301.6 260.0 301.7 260.2 301.9 261.0 301.7 263.3 302.1 263.5 302.1 263.5 302.2 264.8 301.8 264.8 301.9 264.2 302.4 265.5 302.5 266.6 302.3 265.6 301.8 266.8 302.5 266.8 302.0 266.7 302.1 268.7 302.0 268.2 302.3 269.7 303.0 268.7 302.3 271.1 303.1 270.2 302.6 271.3 302.6 271.7 302.8 272.1 302.5 272.7 302.9 273.3 302.7 273.5 303.2 274.9 303.0 276.1 303.5 274.4 303.3 274.1 303.8 276.6 303.1 274.9 303.8 276.6 303.9 276.3 304.0 279.9 303.5 279.2 303.7 280.4 304.3 281.3 303.9 278.4 304.4 280.9 304.0 280.7 304.4 281.7 304.8 280.1 305.1 281.2 305.0 282.6 305.5 284.6 305.8 283.9 305.4 283.7 305.7 282.4 306.1 283.1 306.2 283.8 305.8 280.4 306.3 279.6 305.9 278.9 306.5 281.6 306.6 281.8 306.7 277.8 306.3 279.5 306.1 278.4 306.2 274.9 306.7 275.0 307.1 278.4 306.8 274.2 306.5 275.4 306.9 274.3 307.2 274.4 307.3 273.3 307.1 273.3 306.8 272.7 307.2 271.9 307.4 271.1 307.1 271.2 307.5 271.9 307.2 270.0 307.8 272.1 307.5 267.1 307.4 269.5 307.3 265.8 308.0 270.0 307.3 267.1 307.8 265.7 307.3 267.6 308.0 265.4 307.4 264.7 307.5 267.3 307.5 263.1 308.1 261.8 307.6 260.9 307.7 262.9 308.3 260.4 307.8 263.2 308.1 260.4 307.8 259.3 308.6 258.2 308.0 260.8 308.6 260.8 308.3 260.2 308.5 257.7 308.4 258.1 308.7 256.9 308.5 256.7 308.3 256.7 308.3 256.4 308.6 254.4 308.6 254.6 309.4 252.4 309.3 252.7 308.8 254.5 309.0 251.0 309.2 253.9 309.7 252.1 309.0 252.6 309.6 252.9 310.0 249.3 310.0 251.4 309.5 248.5 309.7 247.9 309.8 246.1 309.8 249.9 310.0 247.9 310.5 248.0 310.0 247.9 310.6 247.3 310.6 245.7 310.8 244.4 310.6 244.2 310.8 243.6 311.0 242.4 310.8 242.2 311.1 241.6 311.2 243.5 311.3 239.3 311.4 242.0 311.2 241.0 310.7 241.7 311.2 239.0 311.1 240.2 311.6 240.2 311.1 236.8 311.2 235.0 311.3 234.1 311.8 234.7 311.2 233.4 311.9 233.6 311.7 234.2 312.1 236.5 311.7 234.3 312.3 233.1 312.3 233.2 311.9 232.6 312.1 231.7 313.3 204.6 313.6 203.5 313.8 204.3 313.9 203.0 314.0 203.3 314.4 201.3 314.3 201.1 315.0 201.2 314.8 200.4 314.8 200.8 315.1 199.9 315.8 199.8 316.1 198.0 316.6 199.1 316.9 198.2 317.2 198.6 316.8 199.7 317.4 199.2 317.6 201.4 317.3 200.6 317.6 202.3 317.2 201.5 317.4 203.0 317.4 203.1 317.7 203.8 317.5 204.5 317.9 204.6 318.5 205.1 318.5 205.4 318.8 206.1 318.9 207.0 318.7 207.6 318.7 206.6 319.2 208.8 319.7 209.4 319.5 209.8 319.8 208.6 320.0 210.5 320.0 210.6 320.0 210.3 320.3 211.3 320.6 210.9 320.3 211.9 321.2 213.3 320.9 212.7 321.3 213.0 321.6 215.0 321.4 214.8 322.1 215.6 322.2 216.0 322.0 216.8 322.8 215.5 323.0 216.9 322.4 216.5 323.2 218.3 322.8 218.4 323.4 219.7 323.3 219.7 323.4 219.6 323.5 220.3 324.1 220.8 324.2 221.3 323.9 221.7 323.9 222.1 324.1 222.8 324.0 223.3 324.3 224.5 324.3 225.1 324.4 224.3 324.5 224.6 324.1 225.0 324.6 227.4 324.4 226.6 324.4 227.1 324.7 227.7 324.2 229.2 324.6 227.9 324.9 230.0 324.5 230.3 325.0 230.3 324.6 230.6 324.8 231.9 325.0 233.0 324.4 232.2 325.1 233.7 324.9 233.9 324.7 235.0 324.9 234.4 324.6 234.2 325.3 236.2 324.5 235.7 325.0 236.6 324.9 238.0 324.9 237.7 325.4 238.6 325.1 238.2 325.0 239.4 325.4 239.3 325.0 240.1 325.1 240.9 325.2 241.2 325.3 240.6 325.1 240.5 325.0 240.0 324.9 238.5 325.0 239.5 325.1 237.3 325.1 236.8 325.7 238.0 325.9 238.5 325.6 237.9 325.3 237.4 325.6 233.8 325.9 236.1 325.6 232.3 326.1 234.6 325.9 235.1 325.4 230.6 325.6 229.9 326.1 232.1 325.6 229.5 325.7 231.0 326.2 232.0 326.0 231.5 326.1 228.5 325.9 227.3 326.6 230.1 326.4 226.0 326.0 225.4 326.2 227.4 326.0 226.0 326.6 223.4 326.4 225.9 326.5 224.2 326.9 224.1 326.4 223.1 327.0 223.4 327.0 222.4 326.3 221.6 326.7 221.3 327.9 197.2 327.9 197.9 327.6 198.7 328.3 198.7 327.7 200.1 328.1 200.4 328.3 201.2 328.2 202.7 328.8 203.1 328.5 200.9 328.3 201.2 328.9 204.0 328.8 204.6 329.1 204.6 328.5 205.4 328.5 205.2 328.5 206.8 328.8 204.8 329.3 204.5 329.3 207.9 328.7 208.4 329.1 209.5 329.2 208.0 329.6 207.5 329.5 208.4 329.1 209.2 329.7 210.2 329.4 210.8 329.7 211.0 329.8 212.1 329.3 212.3 330.0 211.7 330.0 212.3 329.9 215.6 330.5 216.5 330.1 215.1 330.6 216.4 330.4 217.4 330.4 218.2 330.6 215.2 330.9 215.8 331.0 215.9 331.3 218.5 331.2 217.2 331.2 218.8 331.0 220.7 330.9 220.3 331.0 221.2 331.5 221.3 331.9 221.5 331.6 222.3 331.8 223.3 331.6 224.5 331.5 222.6 332.1 222.9 331.6 224.8 331.8 223.9 332.3 225.7 332.3 225.3 332.4 225.7 332.5 227.9 332.6 229.1 332.3 228.5 332.6 228.6 331.9 231.2 332.6 230.7 332.6 229.3 332.4 232.3 332.9 233.3 332.2 232.7 332.6 232.0 332.4 231.4 332.7 233.4 332.5 233.4 332.8 235.5 332.9 233.9 333.2 235.1 333.4 236.9 332.7 236.6 333.5 236.9 333.1 237.5 333.2 237.9 332.7 238.2 332.9 238.6 333.3 239.7 333.7 240.6 333.2 242.1 333.4 241.2 333.7 242.3 333.2 242.5 333.2 244.6 333.2 245.1 333.1 241.5 333.5 242.8 333.5 243.0 333.8 245.9 333.7 247.5 334.0 246.9 333.8 244.5 333.3 246.8 334.1 246.9 333.8 246.0 333.7 250.4 333.9 250.6 333.4 248.4 333.6 251.6 333.5 252.6 333.7 252.9 333.9 251.0 334.4 251.8 334.2 251.1 334.3 254.9 333.7 254.5 333.9 253.5 334.0 255.1 334.5 255.9 334.6 255.9 334.2 256.3 334.4 256.5 334.5 257.4 334.3 258.8 334.2 257.2 334.2 257.5 334.6 260.6 334.3 259.8 334.7 260.6 334.7 261.0 334.4 259.4 334.8 260.7 335.1 261.2 335.3 261.7 334.7 263.3 335.0 263.5 335.4 263.7 335.4 265.6 335.2 265.4 335.7 266.1 335.1 265.4 335.1 266.5 335.1 267.7 335.5 267.6 335.6 268.9 335.5 268.6 335.6 269.3 335.8 269.9 336.3 269.6 336.0 268.4 335.8 267.6 336.7 268.3 336.2 267.7 336.2 267.0 336.6 265.6 337.1 266.4 337.1 264.7 337.4 264.8 337.5 263.6 337.8 263.0 337.4 263.3 337.5 262.7 337.9 262.5 338.1 262.2 337.9 261.3 338.2 260.6 338.1 260.8 338.1 259.3 337.9 259.6 338.8 259.9 338.0 258.5 338.4 257.3 338.7 257.5 338.8 256.5 339.0 257.2 338.7 255.2 338.7 254.7 339.0 255.4 338.9 255.5 338.5 254.5 339.3 252.6 338.9 252.0 339.2 253.0 339.0 252.3 339.1 251.8 339.1 251.4 339.3 250.3 339.4 250.0 339.2 249.7 340.0 249.2 339.5 249.2 340.1 247.2 339.9 247.9 339.7 246.1 340.1 247.4 340.8 245.7 340.9 246.2 341.0 245.3 341.2 244.9 341.3 244.3 340.7 243.7 341.1 242.9 341.1 242.7 341.5 242.0 341.5 241.7 341.5 241.2 341.8 240.4 342.1 239.4 342.2 239.0 342.6 239.3 342.5 238.4 342.8 238.9 342.3 239.7 342.5 239.8 342.4 240.3 342.8 241.5 342.6 241.9 342.3 241.9 342.5 242.1 342.5 243.5 342.8 242.9 342.4 244.6 342.8 244.9 342.8 245.5 342.5 244.6 342.6 245.0 343.1 246.6 342.9 248.1 343.0 247.0 342.6 247.2 343.0 249.1 342.8 248.8 342.6 249.6 343.0 251.0 343.1 251.4 342.8 251.0 342.7 252.5 342.6 251.7 342.7 253.1 343.2 253.1 343.2 253.8 342.9 254.2 343.3 254.0 344.0 254.8 343.8 256.3 344.5 255.7 345.0 256.3 345.5 256.2 345.5 256.7 346.2 256.2 346.7 258.2 347.1 258.3 347.7 258.3 348.0 258.5 347.6 259.6 348.3 259.3 348.1 261.0 348.9 260.1 348.7 261.4 348.7 260.7 348.8 262.5 349.2 262.7 349.0 262.5 349.3 263.5 349.5 264.5 349.8 264.6 349.5 265.6 349.7 266.3 349.8 266.3 350.0 265.7 350.5 267.9 350.1 268.3 350.4 269.3 350.1 268.5 350.3 269.5 350.9 270.4 350.8 270.2 350.8 270.8 351.2 271.1 350.8 272.1 351.0 273.1 350.8 272.7 351.0 272.2 351.0 272.9 351.3 274.2 351.5 274.4 351.8 275.4 352.1 275.1 351.8 276.3 351.8 277.7 351.7 278.2 351.9 277.5 352.2 278.5 352.0 278.2 352.7 279.2 352.1 280.0 352.5 280.4 352.6 279.8 352.5 279.8 352.6 278.7 353.2 278.1 352.8 277.1 353.1 277.7 353.0 276.7 352.9 277.0 353.2 276.6 353.2 275.9 352.9 274.2 353.9 274.7 353.7 273.8 353.6 272.7 353.4 273.1 353.9 271.9 354.0 271.4 354.0 271.1 354.0 270.8 354.1 270.1 354.3 269.0 354.4 269.5 354.2 268.3 354.9 268.3 354.9 268.2 355.0 266.5 355.1 267.2 355.3 266.3 355.4 265.5 355.4 266.0 356.0 266.9 355.8 266.3 355.9 266.5 356.3 269.1 356.2 268.0 356.4 268.3 356.5 269.6 355.9 270.9 356.3 271.3 356.7 271.1 356.9 270.9 357.1 271.7 356.4 272.3 356.5 272.5 357.1 273.3 357.1 274.1 357.3 273.6 358.0 274.9 359.0 274.7 359.2 273.8 359.7 274.3 359.6 274.5 359.8 275.8 359.7 275.2 359.3 277.2 359.8 277.0 360.1 276.5 360.1 277.7 360.2 278.2 359.8 279.8 359.9 279.8 360.5 279.2 360.5 280.1 360.1 280.2 360.9 281.0 360.6 281.8 360.2 282.6 360.9 283.0 360.8 283.3 360.9 283.4 361.0 284.9 361.5 284.7 361.6 284.6 362.1 285.9 361.9 287.1 361.8 287.3 362.3 287.5 362.7 288.2 363.0 287.4 364.0 288.1 364.3 288.5 364.6 288.4 365.4 288.7 365.0 288.3 365.2 287.9 365.5 287.3 365.6 286.2 365.8 285.9 365.9 286.2 365.7 285.8 365.5 285.0 366.0 283.5 365.3 283.5 365.7 282.4 365.4 283.4 365.6 281.4 365.5 281.8 365.5 281.1 365.8 280.5 365.8 280.8 365.4 280.5 365.6 278.1 366.1 278.7 365.9 277.5 366.2 277.2 366.2 276.5 366.0 276.9 365.9 276.0 365.6 275.9 366.2 274.3 366.1 275.1 365.7 274.8 366.5 272.7 365.9 272.3 366.0 271.9 366.2 271.7 366.0 271.5 366.1 271.2 366.5 270.4 366.3 270.0 366.2 269.0 366.5 268.2 367.0 269.1 367.4 267.4 366.7 268.1 367.2 267.9 367.4 266.1 367.3 266.9 367.8 265.4 368.0 265.0 369.5 245.0 370.5 183.4 370.7 184.5 371.3 184.4 371.3 185.0 372.0 212.5 372.0 212.8 373.0 213.1 373.0 213.9 373.2 214.3 373.3 214.7 373.8 215.0 374.5 240.0 374.9 240.3 374.4 241.3 375.0 241.0 374.7 242.2 375.0 242.4 374.4 242.6 374.9 244.0 374.5 244.3 374.9 244.8 374.4 244.9 374.7 245.7 374.8 245.2 375.1 246.0 375.2 246.6 375.0 248.2 374.7 248.5 374.7 249.5 374.7 249.5 375.0 248.8 375.1 250.0 375.1 249.7 375.3 250.6 375.7 251.2 375.2 251.4 375.8 252.2 375.5 253.5 375.3 253.8 375.2 253.7 375.1 254.5 375.5 255.0 375.9 255.3 375.6 256.4 375.5 255.8 375.7 256.8 376.2 258.4 375.6 258.1 375.8 257.5 375.9 259.9 375.8 259.7 376.2 259.0 376.5 259.6 376.0 261.4 375.8 261.3 375.9 262.0 376.3 262.5 375.9 262.8 376.2 263.1 376.1 263.6 376.5 263.9 376.8 264.8 376.4 265.0 377.0 265.0 376.9 265.6 377.2 266.8 376.9 268.3 376.5 267.1 377.1 268.7 377.2 268.6 377.0 268.9 377.0 269.6 377.2 270.1 377.0 271.4 376.9 272.2 377.3 271.6 377.0 272.6 377.4 273.3 377.3 273.6 377.5 274.1 377.9 273.5 378.1 273.6 378.2 273.4 377.6 272.8 378.0 270.9 378.4 271.4 378.3 270.7 377.7 270.9 377.9 269.0 378.3 268.4 378.3 269.0 378.0 268.4 378.1 267.5 378.6 267.4 378.2 266.0 379.1 265.9 378.7 265.4 378.8 265.0 380.0 232.5 380.7 170.0 380.9 169.6 380.9 168.9 380.9 168.5 380.6 168.6 381.3 168.0 381.4 166.9 381.3 165.9 381.2 166.5 381.4 166.2 381.4 164.5 381.4 164.4 381.0 163.7 381.4 164.3 381.5 163.4 381.0 161.7 381.3 161.4 381.2 160.6 381.0 161.5 381.1 161.3 381.3 160.8 381.3 159.0 381.4 157.9 381.5 158.2 381.1 158.7 381.5 156.6 382.1 156.6 381.5 156.0 381.4 156.2 381.8 155.5 381.8 155.0 381.6 154.4 382.3 153.9 382.3 153.9 381.6 153.5 381.5 152.9 382.3 152.4 382.1 152.1 381.8 151.0 381.9 150.2 381.9 150.3 382.2 150.0 382.3 149.1 382.6 149.0 382.3 147.5 382.7 147.0 382.0 146.4 382.6 147.3 382.6 146.1 382.9 145.9 382.4 144.7 382.8 143.9 382.2 143.9 382.9 142.9 382.8 143.1 382.3 142.1 382.7 141.7 383.5 140.9 383.6 141.2 384.0 143.0 383.6 143.1 383.9 142.2 384.2 142.7 383.5 143.9 383.5 144.5 384.0 145.0 410.6 199.4 410.6 199.6 410.6 199.5 411.0 198.3 410.5 196.1 410.8 196.1 411.0 196.3 410.8 196.5 411.4 193.1 410.9 191.2 410.7 191.0 411.0 196.1 411.3 196.5 411.5 193.3 411.3 188.6 411.2 189.9 411.4 188.0 411.4 189.7 411.4 189.5 411.1 190.7 411.8 189.4 411.2 188.7 411.6 188.0 412.3 166.0 413.2 166.0 414.0 188.0 414.6 190.4 414.7 185.6 415.1 190.5 414.8 192.8 415.6 193.1 415.3 191.2 415.7 189.6 416.3 192.0 416.3 192.0 416.3 192.6 417.0 193.4 417.2 194.0 417.4 190.6 417.1 194.9 417.5 198.4 417.6 195.3 417.7 196.2 418.0 199.3 417.5 196.4 418.1 197.5 418.6 196.6 418.6 195.6 418.6 201.2 418.4 198.7 418.5 201.5 418.9 201.3 418.9 201.7 419.6 203.6 419.7 200.5 419.5 202.2 419.6 203.1 421.0 182.5 420.9 182.4 420.7 181.6 421.3 182.8 420.6 179.2 421.1 182.8 420.8 181.9 421.0 179.3 421.5 175.3 421.0 175.5 420.9 176.0 421.4 177.5 420.9 178.6 421.3 173.3 421.6 177.7 421.0 178.0 421.6 172.4 420.9 176.5 421.6 170.5 421.6 174.8 421.5 174.7 421.8 170.7 421.7 173.6 421.3 171.6 421.6 171.3 421.5 169.5 421.5 169.3 422.5 170.0 423.4 193.8 423.2 194.4 423.1 196.2 423.9 193.8 423.7 197.1 423.3 198.4 423.9 195.5 423.3 195.8 424.0 197.6 424.0 195.9 423.4 197.8 424.2 197.0 423.5 201.8 423.5 201.7 423.6 199.1 424.1 203.6 423.9 201.8 423.6 202.2 424.1 203.0 423.9 203.9 424.3 204.8 424.2 205.3 423.9 204.4 424.0 204.1 424.5 204.0 424.1 205.0 424.6 208.1 424.3 206.7 424.7 211.3 424.3 209.1 424.7 207.4 424.2 206.8 424.4 212.1 424.1 210.2 424.9 211.0 424.4 214.1 424.9 211.3 424.2 213.7 424.8 216.3 424.7 212.5 424.6 213.1 424.6 214.6 425.0 216.4 425.1 215.8 424.7 216.3 425.2 215.8 425.2 218.1 425.2 217.2 425.4 214.9 425.4 219.5 425.0 220.1 424.9 220.4 425.2 220.2 425.0 221.5 425.6 220.5 425.9 221.4 425.4 222.3 425.6 222.9 426.0 223.3 426.8 222.4 426.6 220.8 426.7 221.3 427.5 220.9 427.6 221.4 428.1 221.8 427.6 222.2 427.5 223.9 427.9 223.5 427.8 223.4 427.8 224.4 428.0 226.0 428.2 224.8 427.8 225.2 428.1 226.9 428.7 226.8 428.4 227.5 428.8 228.0 428.8 228.6 428.5 228.1 429.2 230.0 429.2 231.0 429.7 230.1 429.2 231.2 429.9 231.0 429.5 232.1 429.7 232.8 430.3 233.1 430.6 233.4 430.6 233.7 430.5 233.9 431.3 234.9 431.4 235.1 431.6 236.1 431.7 236.1 431.8 236.2 432.3 237.7 432.1 238.1 431.9 237.9 432.2 239.5 432.1 239.1 433.1 240.0 433.1 240.0 433.1 240.6 433.0 241.3 433.1 242.0 433.3 242.7 433.6 243.3 434.1 242.9 434.2 242.6 434.2 243.1 434.1 244.4 434.4 244.8 434.0 246.3 434.4 246.6 434.5 246.3 434.6 247.2 434.9 246.6 434.7 245.8 434.6 245.9 435.1 245.4 434.9 245.1 435.2 242.3 435.2 244.4 435.4 241.1 435.1 241.6 435.0 241.2 435.6 242.2 435.2 242.8 435.3 242.4 435.4 237.4 435.5 239.8 435.6 241.8 436.3 237.2 436.2 239.5 436.1 236.0 436.5 240.3 435.8 235.5 436.1 234.1 436.3 238.4 436.0 237.4 436.3 232.0 437.0 233.2 436.4 232.4 436.6 232.3 436.5 232.4 436.9 232.2 437.2 232.5 437.2 233.4 437.8 235.2 437.7 237.0 438.3 235.1 438.2 234.0 438.1 237.2 438.7 236.1 439.0 234.5 439.6 237.3 439.0 236.0 439.4 234.4 440.2 232.7 440.1 234.3 440.1 233.6 440.6 235.5 440.6 233.2 440.7 230.0 441.0 229.8 441.6 230.3 441.9 229.7 442.4 228.6 442.6 234.2 442.4 230.2 443.2 232.4 443.7 232.0 443.5 236.7 443.7 237.1 444.5 233.5 444.4 235.0 445.0 237.1 445.1 237.4 446.2 236.7 446.6 232.3 447.5 232.3 447.8 236.1 448.1 235.0 448.0 234.7 448.1 234.6 447.9 235.0 448.2 234.3 448.4 234.2 448.3 232.3 448.1 231.4 448.2 233.5 448.8 230.0 449.2 233.1 449.2 226.6 449.0 230.6 449.0 225.2 449.4 227.6 449.1 229.7 448.9 223.8 449.6 224.9 448.8 223.5 449.7 227.1 449.1 222.6 449.8 225.6 449.6 221.5 449.5 226.6 449.2 222.5 449.3 225.2 449.4 224.0 450.1 222.3 449.5 221.4 449.9 220.5 450.0 220.0 449.8 219.5 450.6 217.3 450.8 218.0 450.4 216.2 450.7 218.5 450.9 219.7 451.0 216.6 451.6 214.1 450.9 214.3 451.3 212.4 451.5 211.3 452.1 213.9 452.2 214.0 452.0 213.0 452.3 212.6 452.0 212.2 452.0 211.6 452.4 211.5 452.1 210.1 452.8 210.6 453.0 208.6 452.4 208.1 452.9 209.0 453.0 208.6 452.9 207.6 453.4 207.3 453.2 206.6 453.1 206.5 453.3 204.6 453.2 204.8 453.3 204.6 453.3 203.7 453.5 203.2 454.1 202.5 453.3 202.5 453.8 201.9 455.0 201.3 455.1 201.7 455.5 202.0 455.4 201.7 456.1 204.2 455.8 203.6 456.0 203.2 456.8 205.3 456.4 204.5 457.0 206.2 457.0 205.8 457.0 207.1 457.7 207.5 457.3 207.5 457.8 207.9 458.6 207.8 458.5 206.4 458.5 207.3 458.8 207.1 459.7 206.0 460.3 206.7 460.4 204.8 460.6 205.0 460.8 204.5 460.6 204.5 461.1 202.9 460.8 202.2 461.2 201.6 461.1 203.7 461.0 202.7 461.2 203.4 461.9 199.6 461.7 198.0 461.6 200.2 461.9 198.2 461.5 196.5 462.1 196.3 461.9 198.2 462.6 197.1 462.1 196.8 462.2 196.5 462.5 195.6 462.2 194.7 462.5 195.8 462.3 192.7 462.4 192.0 462.6 192.5 463.0 192.0 462.8 191.4 463.1 193.6 462.9 193.2 462.8 193.0 463.1 190.9 463.0 188.2 462.8 191.0 463.1 189.4 463.2 188.0 463.0 186.4 463.2 187.1 463.4 186.3 463.7 184.2 464.1 185.0 463.7 183.6 464.1 186.1 464.6 183.0 464.6 182.3 464.9 182.5 465.3 182.5 465.7 182.7 465.8 183.3 466.0 178.9 465.6 178.7 465.9 180.1 466.6 179.9 466.4 177.5 467.1 179.8 466.7 175.8 467.5 176.8 467.2 176.9 467.8 154.4 468.2 153.4 468.1 153.0 468.3 152.0 467.7 150.8 468.4 154.4 468.3 152.3 468.1 149.5 467.9 152.9 468.0 150.3 468.3 147.5 468.5 151.0 468.4 146.3 468.8 148.5 468.7 145.4 469.1 144.5 468.5 144.8 468.9 145.5 469.0 145.6 469.4 144.5 469.1 144.0 468.7 145.0 468.8 144.6 468.9 146.0 469.5 144.2 469.1 148.5 469.5 145.0 469.6 149.2 469.4 146.3 469.6 147.7 469.2 147.4 469.5 147.7 469.5 150.5 469.7 150.2 470.0 149.1 469.6 154.1 470.1 154.5 470.1 153.0 470.2 153.6 469.6 153.5 470.0 154.4 469.8 155.8 470.2 155.0 470.6 153.8 470.9 158.0 471.1 159.0 470.9 155.5 471.4 159.0 471.3 157.6 471.2 160.5 471.7 160.3 471.9 160.0 471.9 160.2 472.1 161.7 472.5 160.9 472.5 161.5 472.7 163.9 472.5 162.2 472.4 165.5 473.0 162.9 472.4 162.8 473.3 162.5 473.3 165.6 473.1 166.2 473.1 166.7 472.9 169.2 473.0 165.5 473.7 168.5 473.9 169.0 474.1 168.3 473.8 169.4 473.7 167.7 474.8 166.8 474.9 169.7 474.9 168.0 475.6 167.5 476.1 167.3 475.7 166.4 475.7 167.8 476.2 166.4 475.9 166.2 476.2 166.0 476.1 166.0 476.5 163.1 476.5 164.5 476.6 164.8 476.2 164.0 476.9 161.3 477.1 158.9 476.8 161.4 477.3 159.1 477.6 160.0 476.8 157.3 476.9 158.4 477.2 157.4 477.5 157.2 477.6 156.8 478.2 159.6 478.0 158.4 477.9 159.5 478.1 160.8 478.8 160.7 478.8 159.8 478.3 160.9 478.5 161.6 479.4 163.0 479.5 162.3 479.0 162.9 479.4 163.8 479.3 164.0 479.6 164.6 479.9 165.5 479.9 165.4 480.1 166.8 480.2 166.7 480.1 166.0 479.8 167.7 480.5 166.4 480.8 171.4 480.9 171.5 480.7 167.9 480.6 172.1 481.3 168.5 480.5 170.8 481.0 172.4 480.8 173.2 481.3 173.1 481.3 202.2 481.2 202.1 481.3 200.8 481.3 202.0 481.7 201.4 481.3 199.9 482.0 201.9 482.3 196.2 481.8 201.5 482.1 200.7 481.9 194.2 482.6 195.2 482.3 195.3 482.4 198.5 482.9 197.7 482.3 196.8 482.2 193.7 483.1 192.2 482.7 193.8 482.6 194.1 483.1 189.6 483.4 189.0 483.3 190.3 482.9 188.0 483.7 192.2 483.3 191.7 483.9 192.0 483.6 187.4 483.6 190.9 483.9 188.6 484.1 186.9 483.9 187.8 483.7 187.0 483.6 185.8 484.1 185.3 484.2 185.5 484.5 186.2 483.9 186.6 484.3 187.1 483.8 186.2 484.4 186.6 484.0 190.5 484.6 191.7 484.0 186.6 484.6 191.0 484.2 187.7 484.3 189.7 484.5 195.0 484.2 189.6 484.6 190.3 484.2 193.0 484.9 192.7 484.3 194.2 484.2 194.3 484.7 194.3 484.9 193.9 484.2 197.2 484.6 199.6 484.3 199.0 484.8 197.1 484.4 199.2 485.0 198.8 484.7 200.6 484.9 199.5 484.5 200.2 484.9 203.4 485.3 201.8 484.7 200.6 485.0 203.4 484.7 203.6 485.4 203.2 485.3 203.9 485.1 204.8 485.0 205.0 485.1 204.4 486.2 202.9 486.0 206.1 486.7 206.8 486.9 206.9 487.4 207.5 486.6 207.5 486.7 208.3 486.8 209.0 487.5 208.8 487.7 209.8 487.9 210.2 487.7 211.1 487.5 212.1 487.3 211.4 487.7 213.3 487.9 212.0 487.8 214.3 488.4 211.2 488.4 213.7 488.3 214.5 488.3 219.1 488.8 218.7 488.8 217.5 488.3 215.6 489.0 217.9 488.8 218.1 488.8 218.1 488.4 221.6 488.6 216.2 488.3 219.1 488.0 224.2 488.7 223.5 487.8 221.2 487.8 223.9 488.3 224.9 488.2 222.7 487.4 223.5 487.8 224.4 488.2 225.1 487.9 225.1 488.3 225.3 487.9 222.9 488.5 226.4 488.4 229.7 488.3 231.6 488.5 231.7 488.7 226.1 488.6 227.7 488.3 229.0 488.9 227.5 488.5 228.5 489.0 231.7 488.8 232.3 488.9 232.1 488.7 233.8 488.8 233.8 489.3 236.5 489.2 237.2 489.9 235.7 489.9 236.1 489.9 233.8 490.6 236.6 490.5 235.2 490.3 236.6 491.0 235.9 490.6 236.2 491.2 234.9 490.8 234.0 491.0 231.4 490.8 235.2 491.3 235.2 491.0 229.8 491.3 227.9 491.2 230.8 491.5 231.9 491.6 229.8 491.6 229.0 491.7 229.8 491.5 228.8 492.1 231.6 491.4 229.2 491.5 232.4 491.4 228.8 491.8 229.0 491.6 232.2 491.6 229.9 491.7 232.2 491.8 233.9 491.8 233.8 491.6 238.0 492.2 236.0 491.6 234.6 492.4 236.7 491.8 239.9 492.5 235.3 492.2 239.0 491.9 237.8 492.3 240.8 492.4 240.9 492.2 237.5 491.9 243.4 492.7 243.9 492.0 243.3 492.1 242.0 492.2 244.0 492.8 244.0 492.5 244.1 492.5 244.8 492.6 243.5 493.1 240.7 493.0 239.2 493.5 239.3 493.0 239.5 493.6 241.5 493.7 242.6 494.0 237.4 494.0 236.6 493.9 236.6 493.9 237.6 494.4 237.5 494.8 237.3 494.2 235.5 494.8 236.2 494.4 232.6 495.0 235.8 494.6 236.5 494.9 234.7 495.2 232.4 495.7 232.3 495.3 232.8 495.8 235.6 495.8 231.8 495.9 232.1 496.2 234.0 496.1 228.1 496.1 229.3 495.9 230.1 495.9 229.0 496.3 228.1 496.3 228.5 496.6 229.9 496.9 232.0 496.7 228.7 496.7 230.6 496.9 230.8 496.5 228.3 496.6 232.4 496.5 229.9 496.7 230.1 496.5 233.3 496.7 234.3 496.9 234.0 496.5 231.8 497.0 239.2 496.8 235.3 496.8 238.6 497.0 239.2 496.6 236.1 496.9 237.9 497.1 238.7 497.2 239.4 497.7 239.8 497.5 242.1 497.6 241.4 497.9 240.2 497.3 245.2 497.8 243.0 497.5 244.6 497.9 244.4 497.9 244.8 498.1 243.9 498.7 244.2 498.2 245.3 498.9 245.0 498.3 247.0 498.3 246.6 499.1 247.7 499.2 247.4 499.4 248.2 499.1 248.8 499.5 249.3 499.7 249.8 499.2 249.6 499.6 249.8 499.4 252.1 499.9 252.6 499.6 252.3 500.0 250.0 500.0 256.3 500.5 253.9 500.5 256.9 500.9 255.4 500.3 257.0 500.5 255.2 500.9 256.3 500.7 256.8 501.2 257.2 501.2 255.8 501.5 258.6 501.3 261.3 501.9 262.4 502.1 256.8 501.6 260.1 501.6 262.7 502.3 258.9 502.1 265.3 502.5 262.1 501.9 262.7 502.4 265.6 502.2 262.8 503.0 262.6 502.8 264.3 502.8 265.6 503.1 265.9 503.3 265.4 503.3 265.4 502.6 264.6 502.7 267.3 503.6 267.6 503.4 265.7 503.3 269.9 503.0 270.7 503.3 269.4 503.7 272.5 503.2 268.8 503.2 270.4 503.7 275.4 504.1 274.6 503.4 274.2 503.8 274.1 504.2 273.5 504.6 273.7 503.9 270.5 504.1 272.8 504.7 274.1 504.3 267.5 505.4 268.8 504.9 272.6 504.9 271.3 505.8 269.1 505.6 268.4 505.8 268.1 505.9 269.8 506.1 270.0 505.6 268.7 506.2 267.9 505.8 269.7 506.5 272.3 506.2 275.8 506.5 271.1 506.5 276.1 506.4 273.6 506.7 278.1 506.8 272.8 506.9 274.3 506.9 277.6 506.6 276.7 506.9 277.8 507.4 277.4 507.4 277.1 507.1 278.7 507.4 278.7 507.5 279.7 507.8 279.2 507.5 277.8 507.9 280.3 508.1 275.9 507.3 278.1 507.3 279.2 508.0 274.9 507.8 276.9 507.6 274.1 508.2 275.9 508.1 271.2 507.8 271.8 507.7 274.0 508.2 275.5 508.2 275.0 508.2 271.6 508.1 270.8 508.7 270.4 507.9 269.7 508.4 269.4 508.4 269.5 508.9 268.3 509.5 269.9 509.0 264.1 509.8 267.7 510.0 266.6 509.6 266.0 510.3 265.6 510.8 265.3 510.4 263.8 511.4 264.3 510.9 264.2 511.9 264.1 511.9 263.5 511.6 262.3 512.2 261.9 512.5 261.3 512.0 261.2 512.6 259.9 512.1 260.0 512.9 259.6 512.9 258.1 512.7 257.7 512.6 257.1 512.7 256.4 513.0 257.2 513.3 257.0 512.6 256.7 513.1 256.4 513.1 254.0 513.3 253.7 513.6 254.0 513.6 253.4 513.2 253.3 513.6 252.3 513.3 251.7 513.7 250.8 513.3 250.9 513.8 249.4 513.5 250.9 513.6 249.9 513.7 248.3 513.9 248.8 514.2 247.6 514.2 247.4 514.1 246.9 514.2 246.7 514.4 245.2 514.7 244.6 514.5 245.7 514.9 244.5 515.0 244.0 515.3 244.5 515.1 245.0 514.8 245.3 514.9 247.0 515.8 246.8 515.2 247.8 515.4 248.1 515.9 248.2 516.0 247.9 516.2 249.0 516.2 250.2 515.9 249.7 516.1 249.5 516.6 251.3 516.3 251.5 516.8 251.0 516.4 252.8 516.7 252.9 516.5 253.1 517.0 253.8 516.9 254.4 517.4 255.8 517.5 254.3 517.2 253.9 517.1 254.5 517.3 257.2 517.8 259.4 518.4 256.0 518.4 258.9 519.1 256.3 518.9 256.4 519.8 253.8 520.0 255.5 519.7 253.9 520.0 253.9 520.4 255.4 520.1 250.1 520.7 253.1 520.7 249.5 520.4 253.5 520.8 250.7 521.5 248.8 521.4 248.3 521.5 249.7 521.6 248.8 521.3 248.7 522.1 248.8 522.0 249.3 522.0 247.1 522.2 248.0 522.0 246.7 521.7 244.4 521.9 246.7 522.3 243.2 522.6 241.4 521.8 242.4 521.9 245.2 522.2 241.7 522.7 241.9 522.5 241.1 522.4 241.5 522.5 240.3 522.9 240.5 523.7 238.4 524.4 240.4 524.1 239.9 524.8 239.2 524.2 240.9 524.3 240.5 524.3 238.7 524.4 236.1 524.7 238.3 524.8 236.0 524.8 236.0 524.7 237.8 524.7 232.9 525.1 233.6 525.3 231.4 525.3 232.8 525.6 232.3 525.2 232.1 525.3 231.9 525.4 231.0 525.6 230.6 525.7 229.3 525.5 230.2 525.8 230.2 525.6 226.7 525.4 226.5 525.5 226.2 526.0 226.5 526.3 225.5 525.8 224.7 525.8 226.8 526.2 224.5 526.5 225.2 526.3 224.4 526.4 224.2 526.7 223.1 526.3 222.1 527.2 221.7 527.1 219.6 527.4 222.1 527.1 220.6 527.4 219.8 527.3 219.1 527.8 219.3 527.8 218.8 528.3 219.0 528.2 218.7 528.2 216.1 527.6 217.7 528.4 216.9 528.2 215.2 528.1 215.0 528.4 212.2 528.9 212.6 528.9 216.5 529.7 216.0 530.0 213.1 529.8 212.7 529.9 212.9 529.8 212.1 530.2 210.3 529.8 210.5 530.2 212.3 530.0 207.3 530.1 211.3 530.1 209.6 529.9 205.1 530.6 207.6 530.1 206.9 530.8 205.8 530.5 205.5 530.5 202.3 530.9 205.7 530.4 203.0 530.3 207.2 530.9 202.7 530.8 203.5 530.4 199.2 530.9 199.7 530.8 198.1 530.4 198.8 531.0 201.2 531.3 200.9 530.9 197.9 531.3 199.1 531.3 198.0 531.0 198.1 531.5 197.5 531.2 196.5 531.3 197.3 531.9 196.2 531.7 196.9 531.7 197.6 532.1 198.4 532.4 197.3 532.2 198.1 532.4 201.3 532.3 200.4 531.9 203.1 532.6 203.9 532.0 203.5 532.4 204.1 532.5 201.9 532.2 204.8 532.4 203.5 532.7 200.3 531.9 203.9 532.0 207.2 532.0 208.0 532.2 203.1 532.7 207.5 532.4 207.4 532.6 210.4 532.6 208.0 532.5 207.6 532.8 205.9 532.8 211.9 532.9 209.9 532.6 208.4 532.3 210.8 533.1 212.0 532.5 212.0 532.8 212.2 533.1 211.6 533.2 210.1 532.8 210.7 533.2 209.8 532.9 212.3 533.0 208.5 532.9 208.5 533.4 207.1 533.4 207.5 532.9 210.4 533.2 206.9 533.8 203.9 533.1 203.4 533.2 207.5 533.6 201.2 533.4 204.0 533.4 202.4 534.1 202.7 533.5 202.6 533.8 201.9 533.5 201.4 534.0 199.8 533.9 199.6 534.2 200.5 534.3 200.1 533.7 196.6 534.2 200.6 533.7 197.3 533.9 197.1 534.5 197.3 534.4 198.3 534.0 196.7 534.1 195.2 534.3 196.0 534.0 196.8 534.0 192.5 534.7 196.8 534.3 196.1 534.0 195.6 534.2 188.5 534.8 189.1 534.8 188.2 534.3 189.7 534.3 189.7 534.5 189.6 534.7 188.8 535.0 191.0 535.6 185.5 536.0 190.2 536.0 187.1 536.0 185.4 536.6 185.9 536.5 184.9 537.0 185.7 537.2 188.1 537.4 185.1 537.6 188.7 537.5 187.8 537.5 189.7 537.7 189.0 537.8 189.0 537.3 186.8 538.0 184.1 537.9 187.4 538.0 185.3 537.9 185.9 538.2 182.4 538.0 184.4 538.1 183.9 537.9 183.3 538.5 183.1 538.6 183.3 538.1 182.4 537.9 182.1 538.4 181.3 538.8 180.0 540.0 121.7 540.2 120.9 540.2 120.7 540.5 119.7 540.8 119.9 540.1 119.8 540.9 118.2 540.9 118.9 541.1 116.6 541.2 116.5 541.3 117.0 541.1 116.7 541.5 115.9 541.3 115.0 542.0 114.7 542.0 114.4 541.9 113.6 542.3 112.5 542.5 112.6 543.3 113.3 543.1 114.1 543.7 114.6 543.5 114.9 543.5 115.8 543.0 115.8 543.9 115.8 543.4 116.0 543.3 118.2 543.1 118.7 543.8 119.4 543.4 120.0 543.5 119.5 544.0 120.2 543.8 120.1 543.2 121.0 543.7 121.7 543.4 122.5 543.6 123.5 544.0 122.5 544.0 123.3 543.9 123.3 544.2 125.4 544.0 125.7 543.9 124.9 543.9 126.8 544.1 126.0 543.9 127.2 543.7 127.4 544.2 128.3 544.2 128.4 544.7 128.5 544.7 130.4 544.4 130.4 545.0 131.1 544.6 132.3 544.5 132.8 544.7 132.1 544.8 133.0 545.0 133.3 545.4 134.2 544.9 136.3 545.4 134.8 545.6 133.6 545.5 137.0 545.7 137.0 545.2 136.7 545.4 137.7 545.6 137.7 545.8 138.3 545.9 139.0 546.3 138.4 545.9 138.4 545.8 141.8 546.6 139.2 546.2 143.0 546.8 143.9 547.0 141.5 546.2 142.3 546.7 143.3 546.8 142.5 546.7 144.2 547.2 143.3 546.8 144.6 546.8 144.2 546.9 147.7 547.7 145.7 547.5 147.4 548.3 147.6 548.7 148.9 548.6 147.8 548.9 147.4 548.3 151.7 548.5 152.1 549.1 148.8 548.6 152.0 548.8 152.3 549.2 152.4 549.6 151.2 549.6 150.1 550.1 151.4 550.2 150.9 549.8 151.5 550.7 149.4 550.7 148.8 550.8 148.3 551.1 147.8 550.7 147.3 550.7 145.2 551.0 147.8 551.2 144.5 551.1 145.7 551.2 144.6 551.2 145.1 551.5 143.9 551.5 144.1 551.0 141.8 551.2 141.7 551.4 140.9 551.9 142.3 551.4 141.7 551.9 138.9 551.7 141.2 551.5 140.1 551.9 138.6 551.7 138.3 553.0 138.4 552.1 201.0 551.9 201.0 552.2 199.5 552.4 200.5 552.9 200.8 552.9 197.1 552.6 195.8 552.6 196.8 552.7 196.8 552.7 196.8 553.1 195.4 553.5 195.1 553.0 195.2 553.5 194.4" stroke="#4682b4" stroke-width="2.2" fill="none" stroke-linejoin="round" stroke-linecap="square"/>
<path d="M164.5 344.1 164.9 347.5 165.4 342.3 165.8 349.5 166.3 343.1 166.7 350.1 167.2 343.7 167.6 348.4 168.1 341.7 168.5 350.7 169.0 340.5 169.4 349.1 169.9 343.2 170.3 350.1 170.8 341.5 171.2 350.3 171.7 342.9 172.1 347.4 172.6 342.3 173.0 347.0 173.5 340.1 173.9 348.3 174.4 339.8 174.8 346.8 175.3 340.2" stroke="#4682b4" stroke-width="1.8" fill="none" stroke-linejoin="round"/>
<path d="M288.0 236.5 288.4 243.7 288.9 238.2 289.3 241.9 289.8 235.6 290.2 241.3 290.7 234.5 291.1 244.7 291.6 234.8 292.0 242.0 292.5 232.9 292.9 242.1 293.4 235.1 293.8 242.4 294.3 235.2 294.7 245.8 295.2 235.3 295.6 243.4 296.1 237.6 296.5 242.8 297.0 235.0 297.4 243.8 297.9 233.6 298.3 240.6 298.8 234.3 299.2 242.8 299.7 233.0" stroke="#4682b4" stroke-width="1.8" fill="none" stroke-linejoin="round"/>
<path d="M436.0 232.1 436.4 239.7 436.9 232.4 437.3 238.9 437.8 233.7 438.2 239.4 438.7 231.2 439.1 242.4 439.6 232.7 440.0 239.7 440.5 229.3 440.9 238.4 441.4 233.3 441.8 240.0 442.3 232.1 442.7 238.4 443.2 233.9 443.6 238.1 444.1 232.9 444.5 237.2 445.0 232.4 445.4 238.8 445.9 232.3 446.3 237.5 446.8 231.3 447.2 237.4 447.7 230.6 448.1 237.4 448.6 231.9 449.0 235.5 449.5 230.6 449.9 235.3" stroke="#4682b4" stroke-width="1.8" fill="none" stroke-linejoin="round"/>
<path d="M480.8 183.8 481.2 198.8 481.7 188.4 482.1 197.5 482.6 186.5 483.0 202.0 483.5 190.7 483.9 199.5 484.4 189.1" stroke="#4682b4" stroke-width="1.8" fill="none" stroke-linejoin="round"/>
<path d="M146.5 323.3 146.9 329.3 147.4 323.8 147.8 328.6 148.3 324.6 148.7 328.0 149.2 324.2 149.6 328.3 150.1 324.2 150.5 329.5 151.0 324.8 151.4 328.4" stroke="#4682b4" stroke-width="1.8" fill="none" stroke-linejoin="round"/>
<path d="M414.0 188.7 414.4 195.1 414.9 188.2 415.3 194.9 415.8 191.1 416.2 196.2 416.7 190.5 417.1 198.1 417.6 193.2 418.0 198.7 418.5 193.8 418.9 200.3 419.4 192.6 419.8 200.1 420.3 191.4 420.7 197.7 421.2 188.5 421.6 197.7 422.1 190.1" stroke="#4682b4" stroke-width="1.8" fill="none" stroke-linejoin="round"/>
<path d="M488.0 232.0 488.4 239.4 488.9 231.8 489.3 238.1 489.8 231.2 490.2 238.9 490.7 235.4 491.1 242.3 491.6 233.5 492.0 244.3 492.5 233.4 492.9 241.9 493.4 234.4 493.8 238.6 494.3 232.8 494.7 237.3 495.2 231.4 495.6 237.2" stroke="#4682b4" stroke-width="1.8" fill="none" stroke-linejoin="round"/>
<rect x="80.5" y="58.5" width="496" height="326" fill="none" stroke="#000" stroke-width="1.11"/>
<path d="M115.50 384.5V389.4M172.50 384.5V389.4M229.50 384.5V389.4M285.50 384.5V389.4M342.50 384.5V389.4M399.50 384.5V389.4M456.50 384.5V389.4M513.50 384.5V389.4M569.50 384.5V389.4M80.5 361.50H75.6M80.5 321.50H75.6M80.5 281.50H75.6M80.5 242.50H75.6M80.5 202.50H75.6M80.5 162.50H75.6M80.5 122.50H75.6M80.5 82.50H75.6" stroke="#000" stroke-width="1.11" fill="none"/>
<text x="70.8" y="366.50" text-anchor="end" class="tl" textLength="17.7" lengthAdjust="spacingAndGlyphs">60</text>
<text x="70.8" y="326.50" text-anchor="end" class="tl" textLength="17.7" lengthAdjust="spacingAndGlyphs">62</text>
<text x="70.8" y="286.50" text-anchor="end" class="tl" textLength="17.7" lengthAdjust="spacingAndGlyphs">64</text>
<text x="70.8" y="247.50" text-anchor="end" class="tl" textLength="17.7" lengthAdjust="spacingAndGlyphs">66</text>
<text x="70.8" y="207.50" text-anchor="end" class="tl" textLength="17.7" lengthAdjust="spacingAndGlyphs">68</text>
<text x="70.8" y="167.50" text-anchor="end" class="tl" textLength="17.7" lengthAdjust="spacingAndGlyphs">70</text>
<text x="70.8" y="127.50" text-anchor="end" class="tl" textLength="17.7" lengthAdjust="spacingAndGlyphs">72</text>
<text x="70.8" y="87.50" text-anchor="end" class="tl" textLength="17.7" lengthAdjust="spacingAndGlyphs">74</text>
<text x="0" y="0" text-anchor="end" class="tl" textLength="80.8" lengthAdjust="spacingAndGlyphs" transform="translate(108.30 395.9) rotate(-30) translate(0 10)">2026-02-21</text>
<text x="0" y="0" text-anchor="end" class="tl" textLength="80.8" lengthAdjust="spacingAndGlyphs" transform="translate(164.70 395.9) rotate(-30) translate(0 10)">2026-02-25</text>
<text x="0" y="0" text-anchor="end" class="tl" textLength="80.8" lengthAdjust="spacingAndGlyphs" transform="translate(221.80 395.9) rotate(-30) translate(0 10)">2026-03-01</text>
<text x="0" y="0" text-anchor="end" class="tl" textLength="80.8" lengthAdjust="spacingAndGlyphs" transform="translate(278.40 395.9) rotate(-30) translate(0 10)">2026-03-05</text>
<text x="0" y="0" text-anchor="end" class="tl" textLength="80.8" lengthAdjust="spacingAndGlyphs" transform="translate(335.40 395.9) rotate(-30) translate(0 10)">2026-03-09</text>
<text x="0" y="0" text-anchor="end" class="tl" textLength="80.8" lengthAdjust="spacingAndGlyphs" transform="translate(392.30 395.9) rotate(-30) translate(0 10)">2026-03-13</text>
<text x="0" y="0" text-anchor="end" class="tl" textLength="80.8" lengthAdjust="spacingAndGlyphs" transform="translate(449.30 395.9) rotate(-30) translate(0 10)">2026-03-17</text>
<text x="0" y="0" text-anchor="end" class="tl" textLength="80.8" lengthAdjust="spacingAndGlyphs" transform="translate(506.30 395.9) rotate(-30) translate(0 10)">2026-03-21</text>
<text x="0" y="0" text-anchor="end" class="tl" textLength="80.8" lengthAdjust="spacingAndGlyphs" transform="translate(562.40 395.9) rotate(-30) translate(0 10)">2026-03-25</text>
<text x="328.5" y="48.8" text-anchor="middle" class="ti" textLength="205" lengthAdjust="spacingAndGlyphs">Active content on server</text>
<text x="329" y="466.9" text-anchor="middle" class="xl" textLength="46.5" lengthAdjust="spacingAndGlyphs">Date</text>
<text x="0" y="0" text-anchor="middle" class="yl" textLength="85" lengthAdjust="spacingAndGlyphs" transform="translate(43.3 221) rotate(-90)">GigaBytes</text>
</svg>
</body></html>
